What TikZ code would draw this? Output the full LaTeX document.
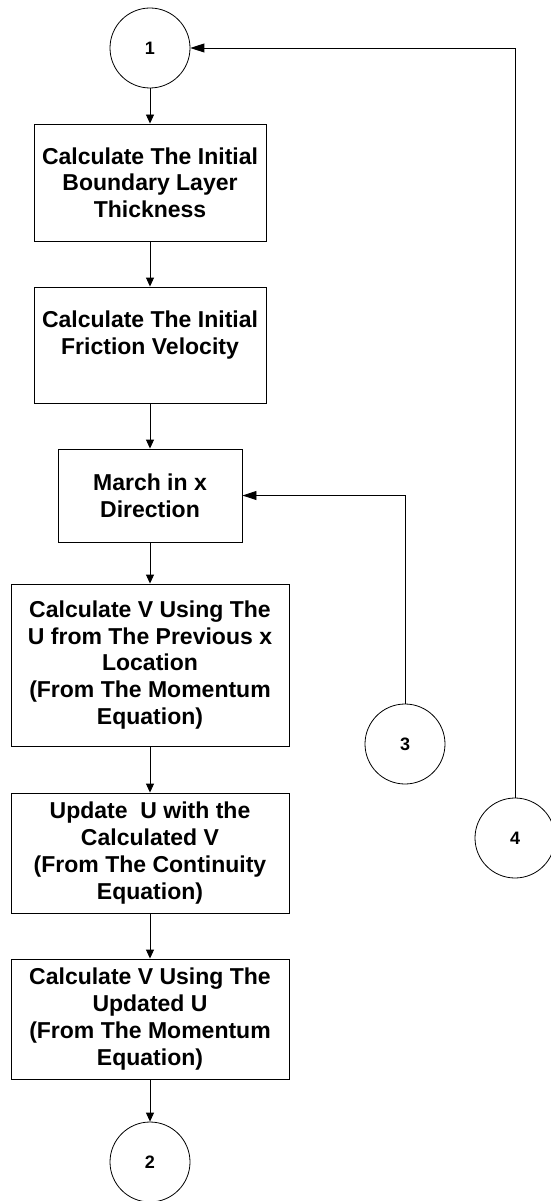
\documentclass[tikz,border=0pt]{standalone}
\usepackage{fontspec}
\setmainfont{Liberation Sans}
\usepackage{tikz}
\usetikzlibrary{positioning,arrows.meta}

\begin{document}
\begin{tikzpicture}[x=1pt, y=-1pt,
    every node/.style={font=\bfseries\fontsize{23}{26.7}\selectfont},
    flowbox/.style={draw, line width=0.9pt, align=center, inner sep=0pt},
    joint/.style={draw, circle, line width=0.8pt, minimum size=80pt, inner sep=0pt,
                  font=\bfseries\fontsize{18}{20}\selectfont},
    flow/.style={line width=0.9pt, -{Triangle[length=9pt,width=8pt]}},
    back/.style={line width=0.9pt, -{Triangle[length=14pt,width=9pt]}}]
    \useasboundingbox (0,0) rectangle (550,1201);
    \node[joint] (c1) at (150,48) {1};
    \node[flowbox, minimum width=232pt, minimum height=117pt] (thick) at (150,182.5)
      {Calculate The Initial\\ Boundary Layer\\ Thickness};
    \node[flowbox, minimum width=232pt, minimum height=116pt, text depth=24pt] (fric) at (150,345)
      {Calculate The Initial\\ Friction Velocity};
    \node[flowbox, minimum width=184pt, minimum height=93pt] (march) at (150,495.5)
      {March in x\\ Direction};
    \node[flowbox, minimum width=278pt, minimum height=162pt] (vprev) at (150,665)
      {Calculate V Using The\\ U from The Previous x\\ Location\\ (From The Momentum\\ Equation)};
    \node[flowbox, minimum width=278pt, minimum height=120pt] (upd) at (150,853)
      {Update~ U with the\\ Calculated V\\ (From The Continuity\\ Equation)};
    \node[flowbox, minimum width=278pt, minimum height=120pt] (vupd) at (150,1019)
      {Calculate V Using The\\ Updated U\\ (From The Momentum\\ Equation)};
    \node[joint] (c2) at (150,1162) {2};
    \node[joint] (c3) at (405,744) {3};
    \node[joint] (c4) at (515,838) {4};
    % main chain
    \draw[flow] (c1) -- (thick);
    \draw[flow] (thick) -- (fric);
    \draw[flow] (fric) -- (march);
    \draw[flow] (march) -- (vprev);
    \draw[flow] (vprev) -- (upd);
    \draw[flow] (upd) -- (vupd);
    \draw[flow] (vupd) -- (c2);
    % loops back
    \draw[back] (c3.north) |- (march.east);
    \draw[back] (c4.north) |- (c1.east);
\end{tikzpicture}
\end{document}
